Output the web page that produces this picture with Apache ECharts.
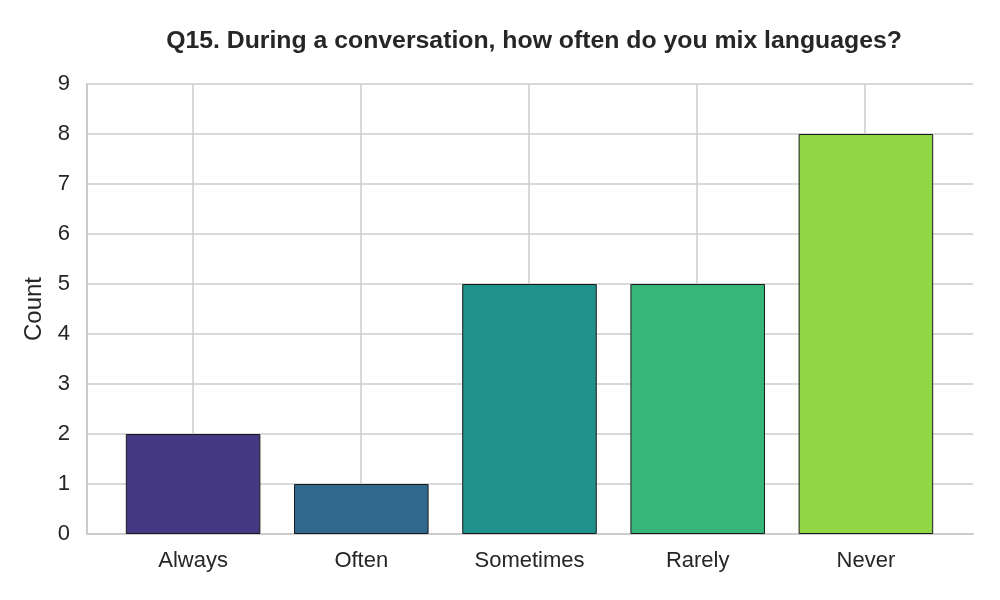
<!DOCTYPE html>
<html><head><meta charset="utf-8">
<script src="https://cdn.jsdelivr.net/npm/echarts@6/dist/echarts.min.js"></script>
<style>html,body{margin:0;padding:0;background:#fff}#c{width:1000px;height:600px}</style>
</head><body><div id="c"></div>
<script>
const categories = ['Always', 'Often', 'Sometimes', 'Rarely', 'Never'];
const counts = [2, 1, 5, 5, 8];
const colors = ['#453882', '#31688e', '#21918c', '#35b779', '#90d743'];
const yTicks = [0, 1, 2, 3, 4, 5, 6, 7, 8, 9];
const titleText = 'Q15. During a conversation, how often do you mix languages?';

const FONT = 'Liberation Sans, Arial, sans-serif';
const chart = echarts.init(document.getElementById('c'), null, {renderer: 'canvas'});
chart.setOption({
  animation: false,
  backgroundColor: '#ffffff',
  title: {
    text: titleText, left: 529, top: 24, textAlign: 'center',
    textStyle: {fontFamily: FONT, fontSize: 24.8, fontWeight: 'bold', color: '#262626'}
  },
  grid: [
    {left: 87, right: 27, top: 84, bottom: 66, containLabel: false},
    {left: 109, right: 50, top: 84, bottom: 66, containLabel: false},
    {left: 193, right: 135, top: 84, bottom: 66, containLabel: false}
  ],
  xAxis: [
    {gridIndex: 0, type: 'value', min: 0, max: 1,
     axisLine: {show: true, lineStyle: {color: '#cccccc', width: 2}},
     axisTick: {show: false}, axisLabel: {show: false}, splitLine: {show: false}},
    {gridIndex: 1, type: 'category', data: categories,
     axisLine: {show: false}, axisTick: {show: false},
     axisLabel: {fontFamily: FONT, fontSize: 22, color: '#262626', margin: 16},
     splitLine: {show: false}},
    {gridIndex: 2, type: 'value', min: 0, max: categories.length - 1, interval: 1,
     axisLine: {show: false}, axisTick: {show: false}, axisLabel: {show: false},
     splitLine: {show: true, lineStyle: {color: '#cccccc', width: 1.5}}}
  ],
  yAxis: [
    {gridIndex: 0, type: 'value', min: yTicks[0], max: yTicks[yTicks.length - 1], interval: 1,
     name: 'Count', nameLocation: 'middle', nameGap: 38,
     nameTextStyle: {fontFamily: FONT, fontSize: 24, color: '#262626'},
     axisLine: {show: true, lineStyle: {color: '#cccccc', width: 2}},
     axisTick: {show: false},
     axisLabel: {fontFamily: FONT, fontSize: 22, color: '#262626', margin: 17},
     splitLine: {show: true, lineStyle: {color: '#cccccc', width: 1.5}}},
    {gridIndex: 1, type: 'value', min: yTicks[0], max: yTicks[yTicks.length - 1], interval: 1,
     axisLine: {show: false}, axisTick: {show: false}, axisLabel: {show: false}, splitLine: {show: false}},
    {gridIndex: 2, type: 'value', min: 0, max: 1,
     axisLine: {show: false}, axisTick: {show: false}, axisLabel: {show: false}, splitLine: {show: false}}
  ],
  series: [{
    type: 'bar', xAxisIndex: 1, yAxisIndex: 1,
    barWidth: '80%',
    data: counts.map((v, i) => ({value: v, itemStyle: {color: colors[i]}})),
    itemStyle: {borderColor: '#1a1a1a', borderWidth: 1}
  }]
});
</script></body></html>
